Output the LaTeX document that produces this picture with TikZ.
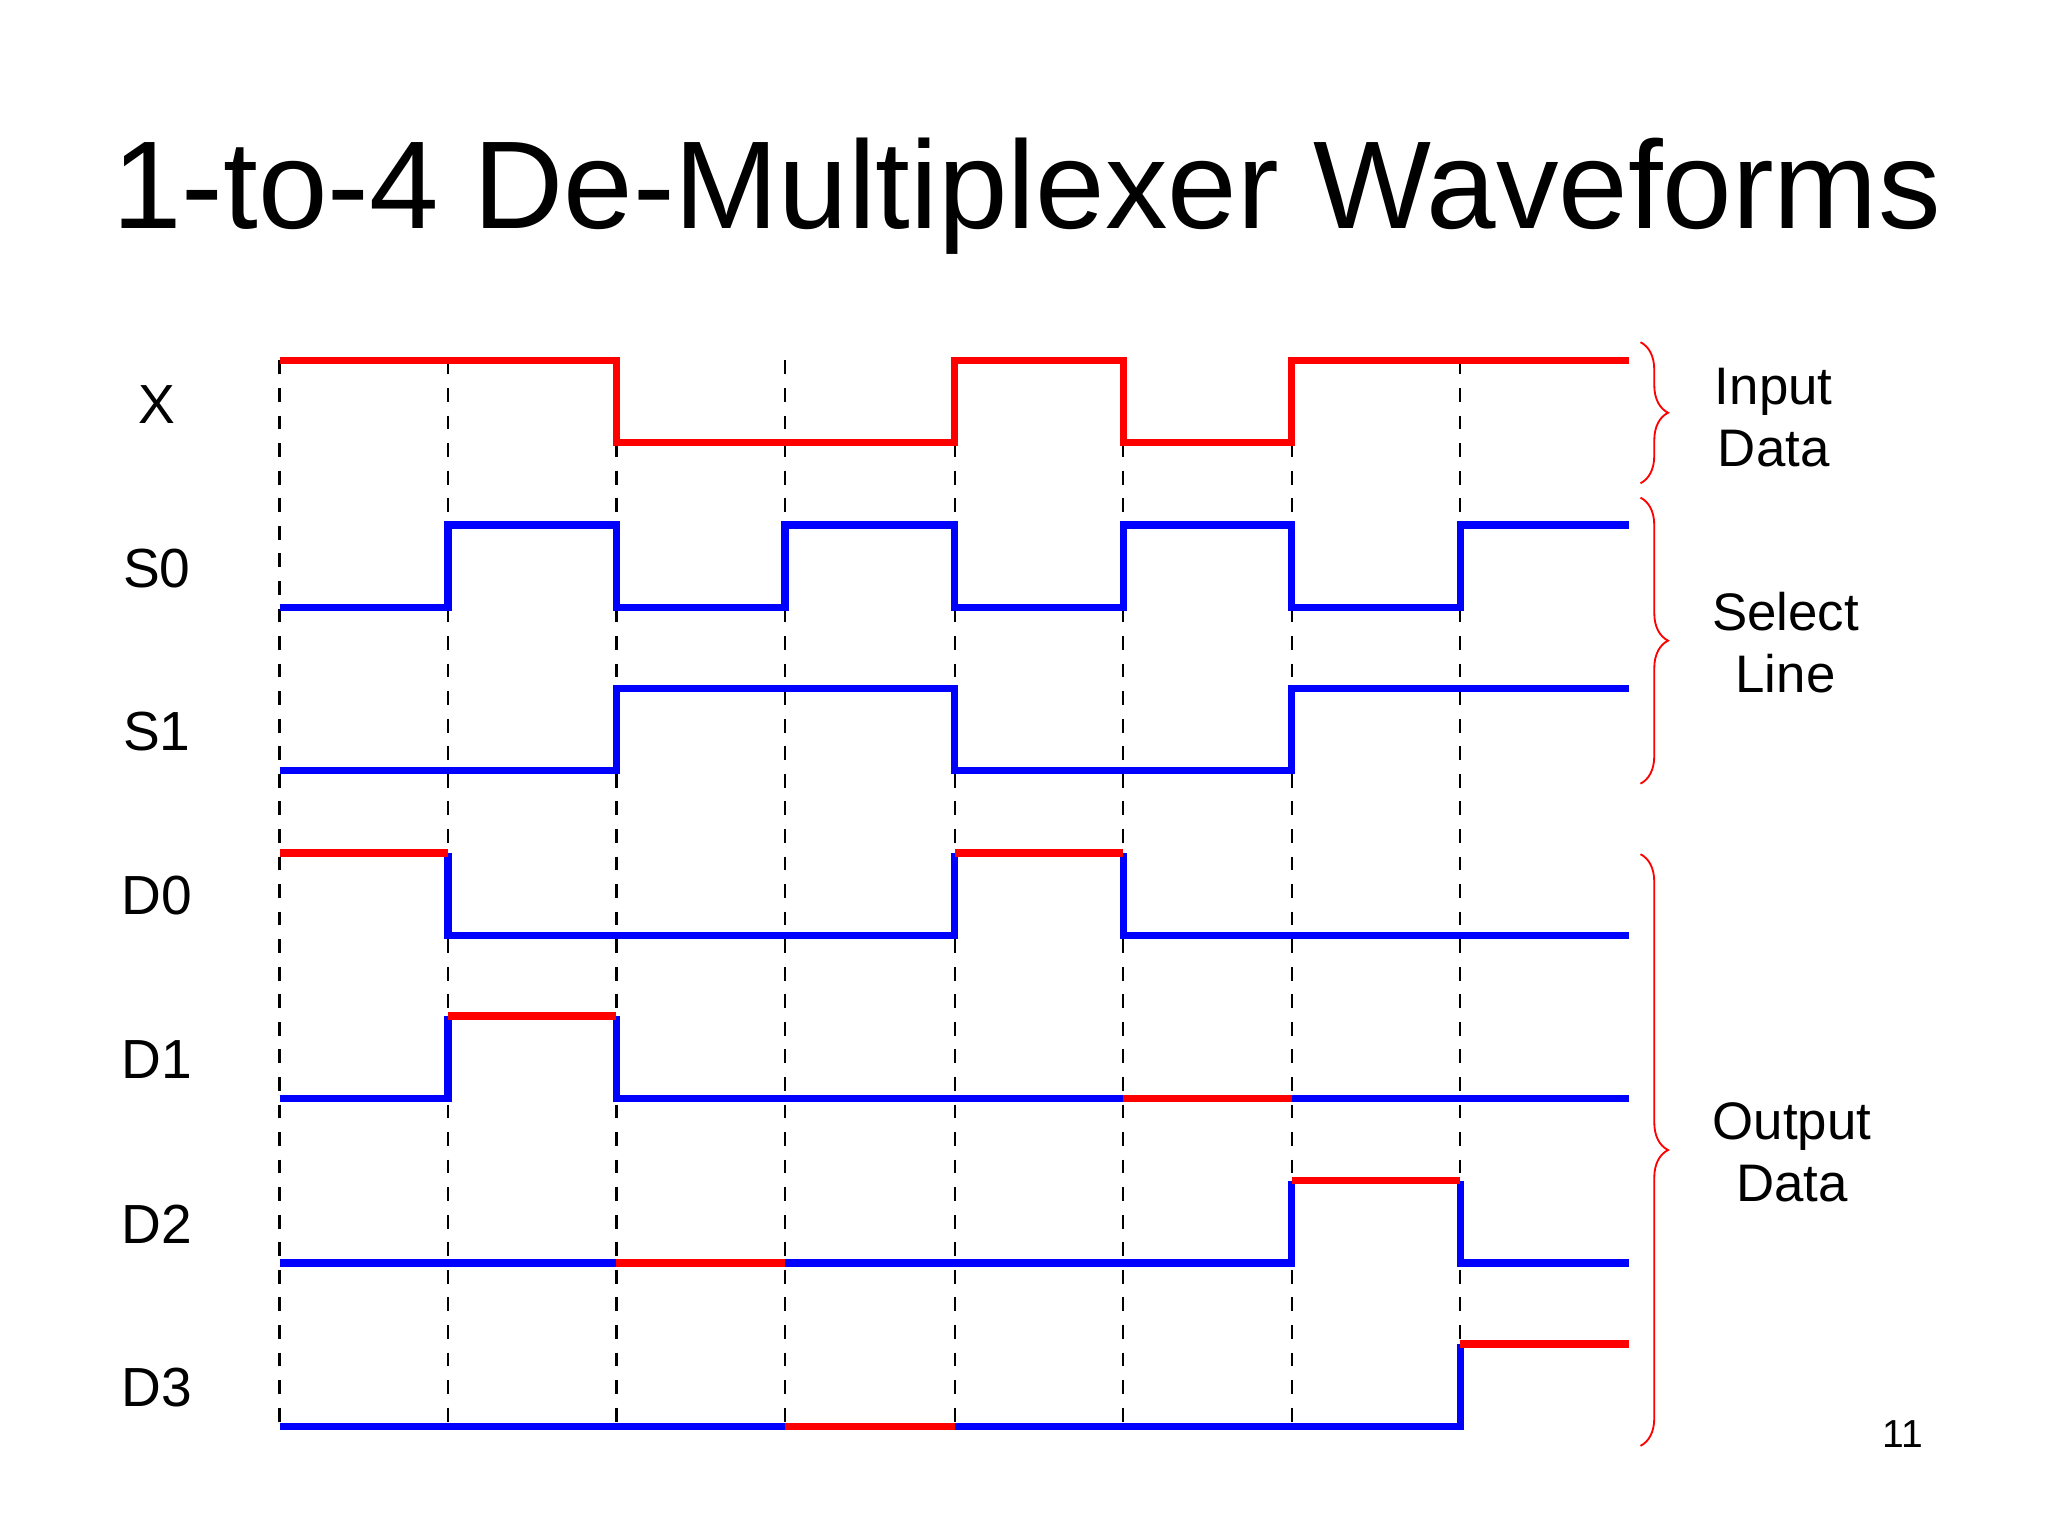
\documentclass[tikz,border=0pt]{standalone}
\usepackage{fontspec}
\setmainfont{Liberation Sans}
\usetikzlibrary{decorations.pathreplacing}
\begin{document}
\begin{tikzpicture}[x=0.01cm,y=-0.01cm,
  rd/.style={red,line width=1.6pt},
  bl/.style={blue,line width=1.6pt},
  grid/.style={black,dashed,line width=0.5pt},
  lab/.style={font=\fontsize{12}{14}\selectfont},
  rlab/.style={font=\fontsize{11.5}{13.5}\selectfont,align=center},
  brc/.style={red,line width=0.4pt,decorate,decoration={brace,amplitude=6pt,aspect=0.5}}]
\useasboundingbox (0,0) rectangle (1568,1176);
\node[font=\fontsize{27.2}{32}\selectfont] (title) at (786,150) {1-to-4 De-Multiplexer Waveforms};
\foreach \x in {214,343,472,601,731,860,989,1118}
  \draw[grid] (\x,276) -- (\x,1092);
% X
\draw[rd] (214,276) -- (472,276) -- (472,339) -- (731,339) -- (731,276) -- (860,276) -- (860,339) -- (989,339) -- (989,276) -- (1247,276);
% S0
\draw[bl] (214,465) -- (343,465) -- (343,402) -- (472,402) -- (472,465) -- (601,465) -- (601,402) -- (731,402) -- (731,465) -- (860,465) -- (860,402) -- (989,402) -- (989,465) -- (1118,465) -- (1118,402) -- (1247,402);
% S1
\draw[bl] (214,590) -- (472,590) -- (472,527) -- (731,527) -- (731,590) -- (989,590) -- (989,527) -- (1247,527);
% D0
\draw[bl] (343,653) -- (343,716) -- (731,716) -- (731,653);
\draw[bl] (860,653) -- (860,716) -- (1247,716);
\draw[rd] (214,653) -- (343,653);
\draw[rd] (731,653) -- (860,653);
% D1
\draw[bl] (214,841) -- (343,841) -- (343,778);
\draw[bl] (472,778) -- (472,841) -- (860,841);
\draw[bl] (989,841) -- (1247,841);
\draw[rd] (343,778) -- (472,778);
\draw[rd] (860,841) -- (989,841);
% D2
\draw[bl] (214,967) -- (472,967);
\draw[bl] (601,967) -- (989,967) -- (989,904);
\draw[bl] (1118,904) -- (1118,967) -- (1247,967);
\draw[rd] (472,967) -- (601,967);
\draw[rd] (989,904) -- (1118,904);
% D3
\draw[bl] (214,1092) -- (601,1092);
\draw[bl] (731,1092) -- (1118,1092) -- (1118,1029);
\draw[rd] (601,1092) -- (731,1092);
\draw[rd] (1118,1029) -- (1247,1029);
% labels
\node[lab] (lX) at (120,310) {X};
\node[lab] (lS0) at (120,435) {S0};
\node[lab] (lS1) at (120,560) {S1};
\node[lab] (lD0) at (120,686) {D0};
\node[lab] (lD1) at (120,811) {D1};
\node[lab] (lD2) at (120,937) {D2};
\node[lab] (lD3) at (120,1062) {D3};
% braces
\draw[brc] (1256,262) -- (1256,370);
\draw[brc] (1256,381) -- (1256,600);
\draw[brc] (1256,654) -- (1256,1107);
\node[rlab] (in) at (1358,320) {Input\\Data};
\node[rlab] (sl) at (1367,492) {Select\\Line};
\node[rlab] (od) at (1372,882) {Output\\Data};
\node[font=\fontsize{8.5}{10}\selectfont] (pg) at (1457,1098) {11};
\end{tikzpicture}
\end{document}
